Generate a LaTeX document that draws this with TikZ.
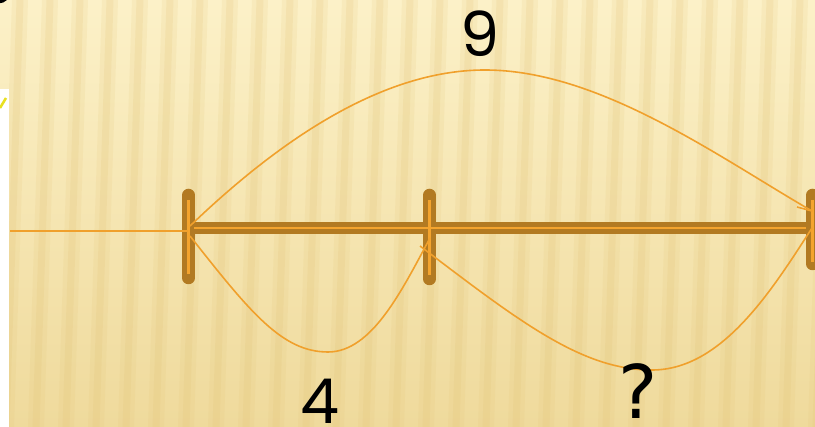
\documentclass[tikz,border=0pt]{standalone}
\usepackage{fontspec}
\setmainfont{Poppins}
\newfontfamily\qfont{DejaVu Sans}
\definecolor{bgtop}{HTML}{FCF1C8}
\definecolor{bgbot}{HTML}{EFDA9C}
\definecolor{stripe}{HTML}{E2C274}
\definecolor{barbrown}{HTML}{B27A22}
\definecolor{barorange}{HTML}{F4A42E}
\definecolor{arcorange}{HTML}{F0A02C}
\definecolor{checky}{HTML}{E8E020}
\tikzset{
  tickbar/.style={draw=barbrown, line width=12.5pt, line cap=round},
  mainbar/.style={draw=barbrown, line width=12pt},
  innerline/.style={draw=barorange, line width=2.6pt},
  arcline/.style={draw=arcorange, line width=1.6pt},
  numlabel/.style={text=black, inner sep=0pt}
}
\begin{document}
\begin{tikzpicture}[x=1pt,y=-1pt]
\useasboundingbox (0,0) rectangle (815,427);
\begin{scope}
\clip (0,0) rectangle (815,427);
% background
\shade[top color=bgtop, bottom color=bgbot] (0,0) rectangle (815,427);
\foreach \i in {-10,20,...,850} {
  \draw[stripe, line width=16pt, opacity=0.14] (\i,0) -- (\i-14,427);
  \draw[stripe, line width=7pt, opacity=0.18] (\i,0) -- (\i-14,427);
}
% white strip at left
\fill[white] (0,89) rectangle (9,427);
\draw[checky, line width=2.5pt] (0,108) -- (6,98);
% black fragment top-left
\draw[black, line width=3pt] (-2,-10) circle (12);
% coordinates
\coordinate (t1top) at (188.5,195);
\coordinate (t1bot) at (188.5,278);
\coordinate (t2top) at (429.5,195);
\coordinate (t2bot) at (429.5,279);
\coordinate (t3top) at (812.5,195);
\coordinate (t3bot) at (812.5,264);
\coordinate (bL) at (188,228);
\coordinate (bR) at (812,228);
\coordinate (lineL) at (10,231);
% ticks and bar
\draw[tickbar] (t1top) -- (t1bot);
\draw[tickbar] (t2top) -- (t2bot);
\draw[tickbar] (t3top) -- (t3bot);
\draw[mainbar] (bL) -- (bR);
\draw[innerline] (188.5,200) -- (188.5,274);
\draw[innerline] (429.5,200) -- (429.5,275);
\draw[innerline] (812.5,200) -- (812.5,262);
\draw[innerline] (194,228) -- (806,228);
\draw[arcorange, line width=1.4pt] (lineL) -- (bL |- lineL);
% arcs
\coordinate (a1s) at (190,226);
\coordinate (a1p) at (485,70);
\coordinate (a1e) at (812,211);
\draw[arcline] (a1s) .. controls (290,130) and (390,70) .. (a1p)
  .. controls (600,70) and (720,158) .. (a1e);
\draw[arcline] (797,207) -- (a1e);
\coordinate (a2s) at (190,236);
\coordinate (a2p) at (328,352);
\coordinate (a2e) at (430,238);
\draw[arcline] (a2s) .. controls (250,312) and (282,352) .. (a2p)
  .. controls (372,352) and (402,290) .. (a2e);
\coordinate (a3s) at (420,246);
\coordinate (a3p) at (652,370);
\coordinate (a3e) at (812,228);
\draw[arcline] (a3s) .. controls (520,322) and (582,370) .. (a3p)
  .. controls (722,370) and (772,290) .. (a3e);
% labels
\node[numlabel, font=\fontsize{62}{62}\selectfont] (l9) at (480,33.5) {9};
\node[numlabel, font=\fontsize{62}{62}\selectfont] (l4) at (320,401.5) {4};
\node[numlabel, font=\qfont\fontsize{74}{74}\selectfont] (lq) at (638,391) {?};
\end{scope}
\end{tikzpicture}
\end{document}
